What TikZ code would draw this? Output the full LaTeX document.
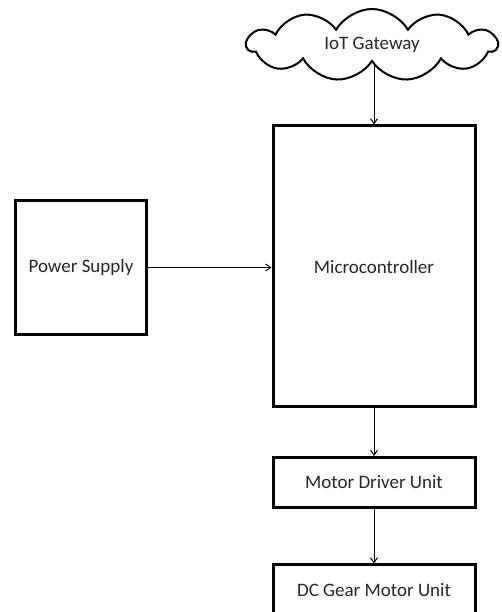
\documentclass[tikz,border=0pt]{standalone}
\usepackage{fontspec}
\setmainfont{Carlito}
\usepackage{tikz}
\usetikzlibrary{shapes.symbols, arrows.meta}

\begin{document}
\begin{tikzpicture}[x=1pt, y=1pt]
        \tikzset{
            block/.style={draw, line width=3pt, rectangle, text=black!85, font=\fontsize{19}{22}\selectfont},
            flow/.style={-{Straight Barb[length=5pt, width=7pt]}, line width=1pt}
        }
        \useasboundingbox (0, 0) rectangle (502, 612);

        \node[draw, cloud, cloud puffs=11, cloud puff arc=120, cloud ignores aspect, line width=2pt, minimum width=250pt, minimum height=72pt, text=black!85, font=\fontsize{19}{22}\selectfont] at (372, 567) (gateway) {IoT Gateway};
        \node[block, minimum width=202pt, minimum height=281pt] at (374, 345.5) (mcu) {Microcontroller};
        \node[block, minimum width=131pt, minimum height=134pt] at (81, 344.5) (power) {Power Supply};
        \node[block, minimum width=202pt, minimum height=50pt] at (374, 129.5) (driver) {Motor Driver Unit};
        \node[block, minimum width=202pt, minimum height=50pt] at (374, 22) (motor) {DC Gear Motor Unit};

        \draw[flow] (gateway.south -| mcu.north) -- (mcu.north);
        \draw[flow] (power.east) -- (power.east -| mcu.west);
        \draw[flow] (mcu) -- (driver);
        \draw[flow] (driver) -- (motor);
    \end{tikzpicture}
\end{document}
